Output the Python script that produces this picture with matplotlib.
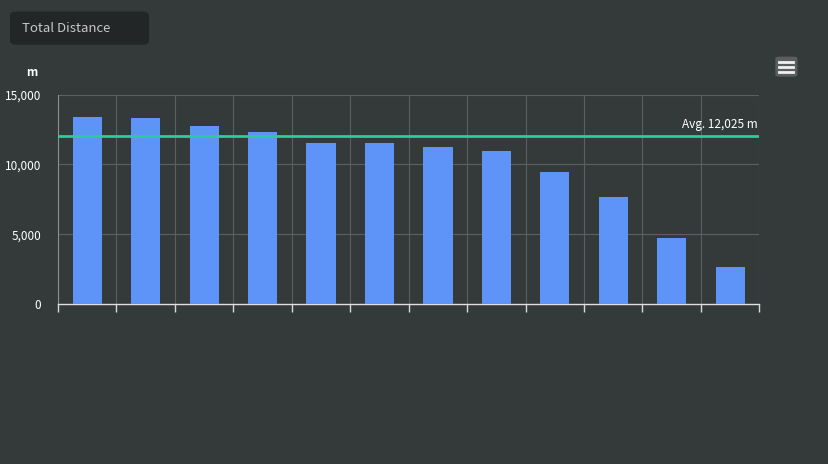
import matplotlib
matplotlib.use("Agg")
import matplotlib.pyplot as plt
from matplotlib.patches import FancyBboxPatch
import numpy as np

plt.rcParams['font.family'] = ['Noto Sans CJK KR', 'DejaVu Sans']

# data
categories = ["1", "2", "3", "4", "5", "6", "7", "8", "9", "10", "11", "12"]
distance = [13400, 13330, 12775, 12300, 11560, 11560, 11230, 10950, 9425, 7630, 4690, 2655]
avg_value = 12025
y_ticks = [0, 5000, 10000, 15000]
y_tick_labels = ["0", "5,000", "10,000", "15,000"]
title = "Total Distance"
unit = "m"
avg_label = "Avg. 12,025 m"

BG = "#343a3a"
BAR = "#5e94f8"
AVG = "#26cf9b"
GRID = "#5a605f"
TXT = "#ffffff"

W, H = 828, 464
fig = plt.figure(figsize=(W / 100 + 0.004, H / 100 + 0.004), dpi=100, facecolor=BG)

ax = fig.add_axes([58 / W, (H - 304) / H, (759 - 58) / W, (304 - 95) / H])
ax.set_facecolor(BG)
x = np.arange(len(categories))
ax.bar(x, distance, width=0.5, color=BAR, zorder=3)
ax.set_xlim(-0.5, len(categories) - 0.5)
ax.set_ylim(0, 15000)

ax.set_yticks(y_ticks)
ax.set_yticklabels(y_tick_labels, color=TXT, fontsize=8.5)
ax.tick_params(axis='y', length=0, pad=12)
ax.set_xticks(np.arange(len(categories) + 1) - 0.5)
ax.set_xticklabels([""] * (len(categories) + 1))
ax.tick_params(axis='x', length=6, color="#d8d8d8", width=1, direction='out')

for yv in y_ticks[1:]:
    ax.axhline(yv, color=GRID, lw=0.8, zorder=1)
for xv in np.arange(len(categories) + 1) - 0.5:
    ax.axvline(xv, color=GRID, lw=0.8, zorder=1)

for s in ['top', 'right']:
    ax.spines[s].set_visible(False)
ax.spines['left'].set_color("#8a8f8f")
ax.spines['left'].set_linewidth(0.8)
ax.spines['bottom'].set_color("#e0e0e0")
ax.spines['bottom'].set_linewidth(1.0)

ax.axhline(avg_value, color=AVG, lw=2, zorder=4)
ax.text(len(categories) - 0.52, avg_value + 400, avg_label, color=TXT, fontsize=8.5,
        ha='right', va='bottom', zorder=5, weight='medium')

# unit label
fig.text(32 / W, 1 - 72 / H, unit, color=TXT, fontsize=8.5, ha='center', va='center', weight='bold')

# title box
box = FancyBboxPatch((10 / W, 1 - 45 / H), 139 / W, 33 / H,
                     boxstyle="round,pad=0,rounding_size=0.008",
                     transform=fig.transFigure, facecolor="#232626", edgecolor="none")
fig.patches.append(box)
fig.text(22 / W, 1 - 28.5 / H, title, color="#c8c8c8", fontsize=9.5, ha='left', va='center')

# menu icon
mbox = FancyBboxPatch((775 / W, 1 - 77 / H), 22 / W, 20 / H,
                      boxstyle="round,pad=0,rounding_size=0.004",
                      transform=fig.transFigure, facecolor="#5a5e5e", edgecolor="none")
fig.patches.append(mbox)
for yy in [62, 67, 72]:
    fig.add_artist(plt.Line2D([779 / W, 793 / W], [1 - yy / H, 1 - yy / H],
                              color="#f0f0f0", lw=2, transform=fig.transFigure))

fig.savefig("out.png", dpi=100, facecolor=BG)
